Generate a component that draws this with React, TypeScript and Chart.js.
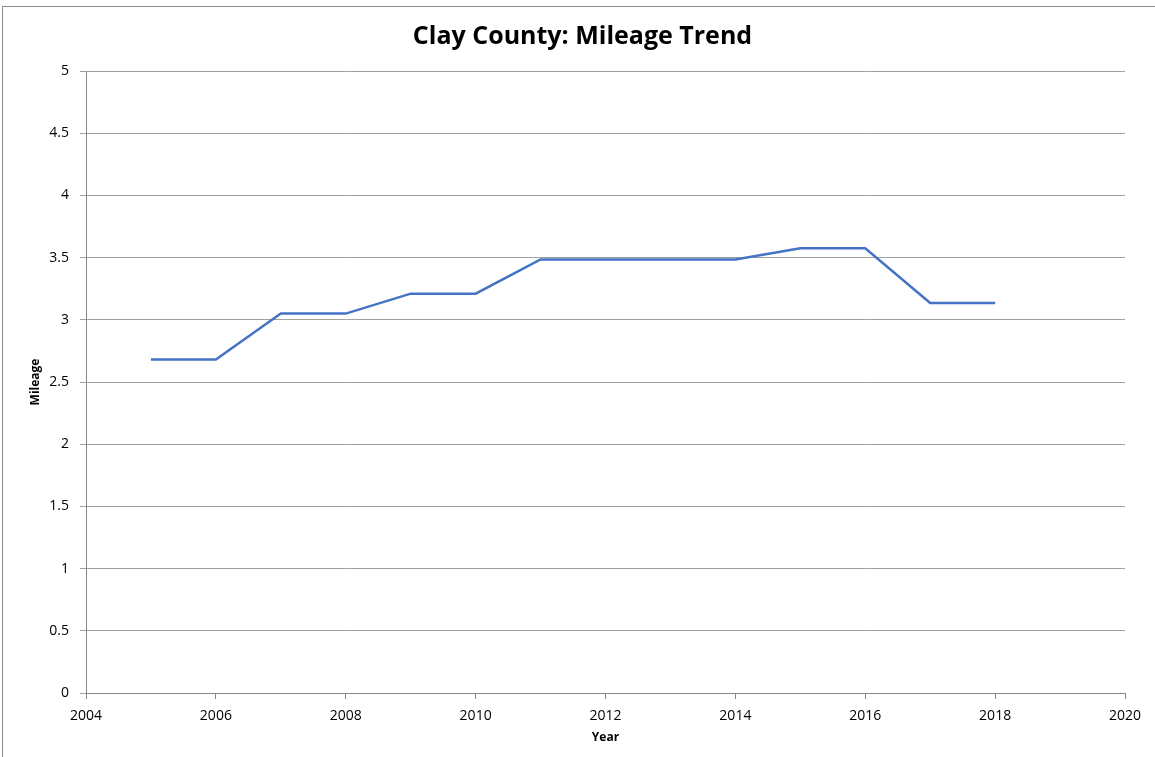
import React, { useEffect, useRef } from "react";
import { Chart, registerables } from "chart.js";

Chart.register(...registerables);

const years = [2005, 2006, 2007, 2008, 2009, 2010, 2011, 2012, 2013, 2014, 2015, 2016, 2017, 2018];
const mileage = [2.68, 2.68, 3.05, 3.05, 3.21, 3.21, 3.485, 3.485, 3.485, 3.485, 3.575, 3.575, 3.135, 3.135];
const chartTitle = "Clay County: Mileage Trend";
const xTitle = "Year";
const yTitle = "Mileage";

const FONT = "'Open Sans', 'Noto Sans', sans-serif";

export default function App() {
  const ref = useRef<HTMLCanvasElement | null>(null);

  useEffect(() => {
    if (!ref.current) return;
    const chart = new Chart(ref.current, {
      type: "line",
      data: {
        datasets: [
          {
            data: years.map((y, i) => ({ x: y, y: mileage[i] })),
            borderColor: "#4472C4",
            borderWidth: 2.5,
            pointRadius: 0,
            fill: false,
            tension: 0,
          },
        ],
      },
      options: {
        animation: false,
        responsive: false,
        devicePixelRatio: 1,
        layout: { padding: { left: 40, right: 30, top: 0, bottom: 0 } },
        plugins: {
          legend: { display: false },
          tooltip: { enabled: false },
          title: {
            display: true,
            text: chartTitle,
            color: "#000",
            font: { family: FONT, size: 25, weight: "bold", lineHeight: 1.2 },
            padding: { top: 21.5, bottom: 19.5 },
          },
        },
        scales: {
          x: {
            type: "linear",
            min: 2004,
            max: 2020,
            ticks: {
              stepSize: 2,
              color: "#000",
              font: { family: FONT, size: 14 },
              padding: 9,
              maxRotation: 0,
              callback: (v: any) => String(v),
            },
            grid: {
              drawOnChartArea: false,
              drawTicks: true,
              tickLength: 6,
              color: "#868686",
            },
            border: { color: "#868686", width: 1 },
            title: {
              display: true,
              text: xTitle,
              color: "#000",
              font: { family: FONT, size: 12, weight: "bold", lineHeight: 1.2 },
              padding: { top: 0, bottom: 11.8 },
            },
            afterFit: (scale: any) => {
              scale.height = 64;
            },
          },
          y: {
            min: 0,
            max: 5,
            ticks: {
              stepSize: 0.5,
              color: "#000",
              font: { family: FONT, size: 14 },
              padding: 11,
              callback: (v: any) => String(Number(v)),
            },
            grid: {
              drawOnChartArea: true,
              drawTicks: true,
              tickLength: 6,
              color: "#a0a0a0",
            },
            border: { color: "#868686", width: 1 },
            title: {
              display: true,
              text: yTitle,
              color: "#000",
              font: { family: FONT, size: 12, weight: "bold", lineHeight: 1.2 },
              padding: { top: -11.2, bottom: 0 },
            },
            afterFit: (scale: any) => {
              scale.width = 46;
            },
          },
        },
      },
    });
    return () => chart.destroy();
  }, []);

  return (
    <div
      style={{
        position: "fixed",
        left: 0,
        top: 0,
        width: 1155,
        height: 757,
        background: "#fff",
        overflow: "hidden",
      }}
    >
      <div
        style={{
          position: "absolute",
          left: 2,
          top: 6,
          width: 1200,
          height: 800,
          border: "1px solid #8c8c8c",
          boxSizing: "border-box",
        }}
      />
      <canvas
        ref={ref}
        width={1155}
        height={757}
        style={{ position: "absolute", left: 0, top: 0, width: 1155, height: 757 }}
      />
    </div>
  );
}
